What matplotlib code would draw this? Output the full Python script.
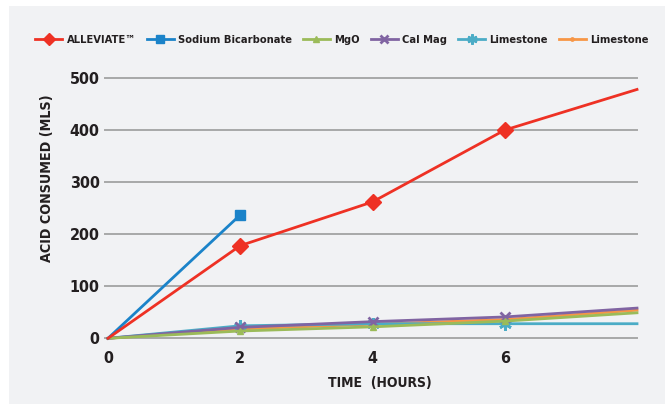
import matplotlib
matplotlib.use("Agg")
import matplotlib.pyplot as plt
from matplotlib.patches import Rectangle

hours = [0, 2, 4, 6, 8]
alleviate = [0, 178, 262, 400, 478]
sodium_hours = [0, 2]
sodium = [0, 237]
mgo = [0, 14, 22, 33, 49]
calmag = [0, 21, 32, 41, 58]
limestone1 = [0, 24, 28, 28, 28]
limestone2 = [0, 18, 27, 36, 54]
yticks = [0, 100, 200, 300, 400, 500]
xticks = [0, 2, 4, 6]

TXT = "#231f20"
FONT = dict(family="DejaVu Sans", fontstretch="condensed", fontweight="bold")

fig = plt.figure(figsize=(6.65, 4.04), dpi=100)
fig.patch.set_facecolor("white")
fig.patches.append(Rectangle((9 / 665, 0), 1, 1 - 6 / 404, transform=fig.transFigure,
                             facecolor="#f1f2f4", edgecolor="none", zorder=-10))

x0, x1 = 108 / 665, 637 / 665
yb, yt = (404 - 338.3) / 404, (404 - 78) / 404
ax = fig.add_axes([x0, yb, x1 - x0, yt - yb])
ax.set_facecolor("none")
ax.set_xlim(0, 8)
ax.set_ylim(0, 500)
for s in ax.spines.values():
    s.set_visible(False)
for v in yticks:
    ax.plot([-0.05, 8], [v, v], color="#a8a8a8", lw=1.4, zorder=0, clip_on=False)

ax.set_yticks(yticks)
ax.set_xticks(xticks)
ax.tick_params(length=0, labelsize=11.5, colors=TXT)
ax.tick_params(axis="y", pad=6)
ax.tick_params(axis="x", pad=9)
for lab in ax.get_xticklabels() + ax.get_yticklabels():
    lab.set_fontstretch("condensed")
    lab.set_fontweight("bold")

mk = [1, 2, 3]
series = [
    ("ALLEVIATE\u2122", hours, alleviate, "#ee3124", "D", 8, mk),
    ("Sodium Bicarbonate", sodium_hours, sodium, "#1b83c9", "s", 7, [1]),
    ("MgO", hours, mgo, "#9bbb59", "^", 5, mk),
    ("Cal Mag", hours, calmag, "#8064a2", "x", 7, mk),
    ("Limestone", hours, limestone1, "#4bacc6", (6, 2, 0), 9, mk),
    ("Limestone", hours, limestone2, "#f79646", "o", 3, mk),
]
plotted = [2, 5, 4, 3, 1, 0]
hs = [None] * 6
for i in plotted:
    name, xs, ys, c, m, ms, me = series[i]
    ln, = ax.plot(xs, ys, color=c, lw=2, marker=m, ms=ms, markevery=me,
                  mew=2 if (m == "x" or isinstance(m, tuple)) else 1,
                  mec=c, mfc=c, clip_on=False, label=name, zorder=3 + (6 - i))
    hs[i] = ln

leg = fig.legend(hs, [s[0] for s in series], loc="center", ncol=6,
                 bbox_to_anchor=(342 / 665, 1 - 40 / 404), frameon=False,
                 prop=dict(family="DejaVu Sans", stretch="condensed", weight="bold", size=8),
                 handlelength=2.4, handletextpad=0.4, columnspacing=1.0,
                 markerscale=0.8)
for t in leg.get_texts():
    t.set_color(TXT)

fig.text(47 / 665, 1 - 178 / 404, "ACID CONSUMED (MLS)", rotation=90, ha="center",
         va="center", fontsize=10.3, color=TXT, **FONT)
fig.text(380 / 665, 1 - 383 / 404, "TIME  (HOURS)", ha="center", va="center",
         fontsize=10, color=TXT, **FONT)

fig.savefig("out.png", dpi=100)
